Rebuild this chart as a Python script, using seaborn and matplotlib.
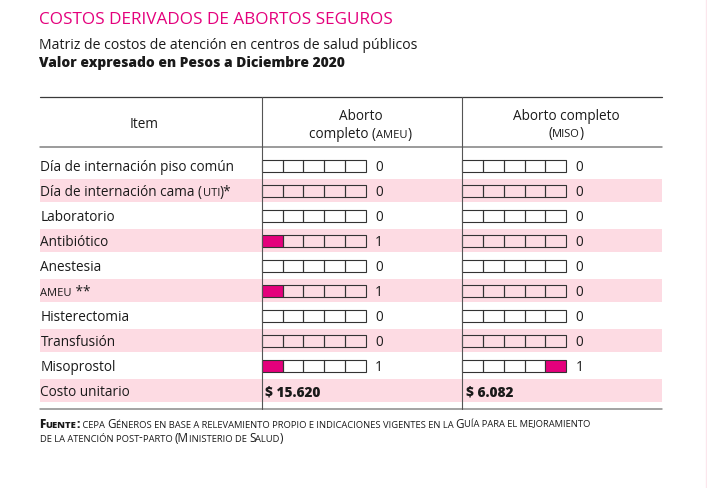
import matplotlib
matplotlib.use("Agg")
import matplotlib.pyplot as plt
import seaborn as sns
import pandas as pd

# ---------------- data ----------------
title = "COSTOS DERIVADOS DE ABORTOS SEGUROS"
subtitle = "Matriz de costos de atención en centros de salud públicos"
subtitle_bold = "Valor expresado en Pesos a Diciembre 2020"
header_item = "Item"
method_headers = [["Aborto", "completo (AMEU)"], ["Aborto completo", "(MISO)"]]
items = ["Día de internación piso común", "Día de internación cama (UTI)*",
         "Laboratorio", "Antibiótico", "Anestesia", "AMEU **", "Histerectomia",
         "Transfusión", "Misoprostol"]
total_label = "Costo unitario"
ameu_counts = [0, 0, 0, 1, 0, 1, 0, 0, 1]
miso_counts = [0, 0, 0, 0, 0, 0, 0, 0, 1]
# which of the five boxes is filled (0 = none)
ameu_marked_box = [0, 0, 0, 1, 0, 1, 0, 0, 1]
miso_marked_box = [0, 0, 0, 0, 0, 0, 0, 0, 5]
unit_costs = ["$ 15.620", "$ 6.082"]
source_lead = "Fuente:"
source_lines = [" cepa Géneros en base a relevamiento propio e indicaciones vigentes en la Guía para el mejoramiento",
                "de la atención post-parto (Ministerio de Salud)"]
smallcap_words = ["UTI", "AMEU", "MISO"]

# ---------------- style ----------------
MAGENTA = "#e4007c"
BAND = "#fddbe3"
TXT = "#1a1a1a"
FONT = ["Open Sans", "DejaVu Sans"]
W, H = 707, 489
DPI = 100
FS = 9.8

sns.set_theme(style="white")
plt.rcParams["font.family"] = FONT

fig = plt.figure(figsize=(W / DPI, H / DPI), dpi=DPI)
fig.patch.set_facecolor("white")

TL, TR = 40, 662            # table left / right (px)
ROW_TOP, ROW_H = 154.2, 25  # rows area
n_rows = len(items) + 1
ax = fig.add_axes([TL / W, 1 - (ROW_TOP + ROW_H * n_rows) / H,
                   (TR - TL) / W, ROW_H * n_rows / H])
ov = fig.add_axes([0, 0, 1, 1], zorder=5)
ov.set_xlim(0, W); ov.set_ylim(H, 0); ov.axis("off")

# ---- row bands through seaborn ----
row_labels = items + [total_label]
df = pd.DataFrame({"row": row_labels, "extent": [TR] * n_rows})
band_colors = [BAND if i % 2 else "white" for i in range(n_rows)]
sns.barplot(data=df, x="extent", y="row", hue="row", palette=band_colors,
            width=0.933, saturation=1, legend=False, ax=ax, orient="h",
            linewidth=0)
ax.set_xlim(TL, TR)
ax.set_ylim(n_rows - 0.5, -0.5)
ax.axis("off")

# ---- box gauges ----
col_x0 = [261.7, 462.0]
box_w = 104.3 / 5
counts = [ameu_counts, miso_counts]
marks = [ameu_marked_box, miso_marked_box]
for m in range(2):
    for i in range(len(items)):
        for k in range(5):
            filled = marks[m][i] == k + 1
            ax.barh(i, box_w, left=col_x0[m] + k * box_w, height=0.47,
                    color=MAGENTA if filled else "none",
                    edgecolor="#333333", linewidth=0.8, zorder=3)

renderer = fig.canvas.get_renderer()


def ext_w(s, p):
    t = ov.text(0, 0, s, **p)
    w = t.get_window_extent(renderer=renderer).width
    t.remove()
    return w


def adv_width(s, p):
    return ext_w("|" + s + "|", p) - ext_w("||", p)


def rich(x, y, segments, ha="left"):
    widths = [adv_width(s, p) for s, p in segments]
    x0 = x - sum(widths) / 2 if ha == "center" else x
    for (s, p), w in zip(segments, widths):
        ov.text(x0, y, s, va="baseline", ha="left", **p)
        x0 += w


def sc_words(text, size, color=TXT, weight="normal"):
    segs = []
    rest = text
    while rest:
        hits = [(rest.find(w), w) for w in smallcap_words if rest.find(w) >= 0]
        if not hits:
            segs.append((rest, dict(fontsize=size, color=color, fontweight=weight)))
            break
        pos, w = min(hits)
        if pos > 0:
            segs.append((rest[:pos], dict(fontsize=size, color=color, fontweight=weight)))
        segs.append((w, dict(fontsize=size * 0.82, color=color, fontweight=weight)))
        rest = rest[pos + len(w):]
    return segs


def small_caps(text, big, small, weight="normal", color=TXT):
    segs = []
    cur, cur_small = "", None
    for ch in text:
        is_small = ch.islower() or ch == " "
        if cur_small is None or is_small == cur_small:
            cur += ch.upper()
        else:
            segs.append((cur, dict(fontsize=small if cur_small else big,
                                   fontweight=weight, color=color)))
            cur = ch.upper()
        cur_small = is_small
    if cur:
        segs.append((cur, dict(fontsize=small if cur_small else big,
                               fontweight=weight, color=color)))
    return segs


# ---- titles ----
ov.text(39, 24, title, fontsize=12.3, color=MAGENTA, va="baseline")
ov.text(39, 48.7, subtitle, fontsize=10.1, color=TXT, va="baseline")
ov.text(39, 66.7, subtitle_bold, fontsize=9.9, color=TXT, va="baseline",
        fontweight="heavy")

# ---- table rules ----
ov.plot([TL, TR], [98.3, 98.3], color="#3a3a3a", lw=0.9)
ov.plot([TL, TR], [147.7, 147.7], color="#808080", lw=1.1)
ov.plot([TL, TR], [410.3, 410.3], color="#8a8a8a", lw=1.1)
for xv in col_x0:
    ov.plot([xv, xv], [98.3, 410.3], color="#555555", lw=0.8)
ov.plot([706, 706], [0, H], color="#fbe6ec", lw=1)

# ---- headers ----
rich(144, 128, sc_words(header_item, FS), ha="center")
hdr_centers = [360.5, 566]
hdr_base = [[120, 138], [119.5, 137]]
for m in range(2):
    for j, line in enumerate(method_headers[m]):
        rich(hdr_centers[m], hdr_base[m][j], sc_words(line, FS), ha="center")

# ---- row texts ----
for i, lab in enumerate(row_labels):
    yb = ROW_TOP + ROW_H * (i + 0.5) + 4.7
    rich(40.5, yb, sc_words(lab, FS))
    if i < len(items):
        for m in range(2):
            ov.text(col_x0[m] + 113.5, yb, str(counts[m][i]), fontsize=FS,
                    color=TXT, va="baseline")
    else:
        for m in range(2):
            ov.text(col_x0[m] + 3.5, yb, unit_costs[m], fontsize=FS,
                    color=TXT, va="baseline", fontweight="heavy")

# ---- source ----
BIG, SMALL = 8.4, 6.75
rich(39.5, 427.5, small_caps(source_lead, BIG, SMALL, weight="heavy")
     + small_caps(source_lines[0], BIG, SMALL))
rich(39.5, 441.5, small_caps(source_lines[1], BIG, SMALL))

fig.savefig("out.png", dpi=DPI, facecolor="white")
